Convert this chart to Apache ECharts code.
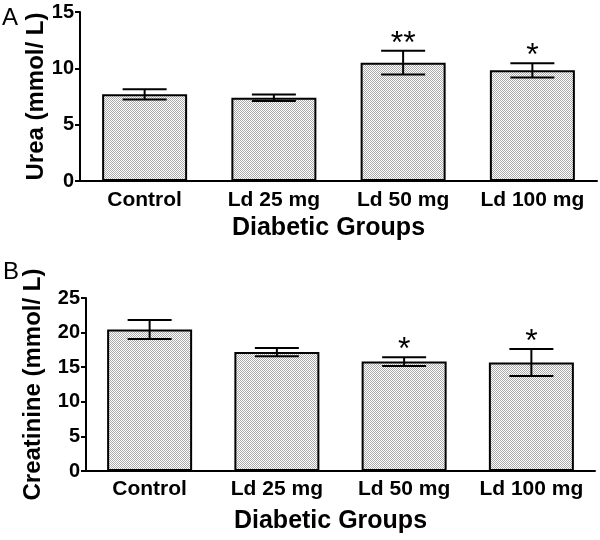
<!DOCTYPE html>
<html>
<head>
<meta charset="utf-8">
<script src="https://cdn.jsdelivr.net/npm/echarts@6/dist/echarts.min.js"></script>
<style>html,body{margin:0;padding:0;background:#fff}#c{width:600px;height:540px}</style>
</head>
<body>
<div id="c"></div>
<script>
var categories = ['Control', 'Ld 25 mg', 'Ld 50 mg', 'Ld 100 mg'];
var ureaMean = [7.69, 7.39, 10.5, 9.82];
var ureaSem = [0.45, 0.28, 1.05, 0.63];
var ureaSig = ['', '', '**', '*'];
var creatMean = [20.45, 17.18, 15.82, 15.67];
var creatSem = [1.37, 0.58, 0.63, 1.95];
var creatSig = ['', '', '*', '*'];
var ureaTicks = [0, 5, 10, 15];
var creatTicks = [0, 5, 10, 15, 20, 25];

var FONT = 'Arial, "Liberation Sans", sans-serif';

var pc = document.createElement('canvas');
pc.width = 2; pc.height = 2;
var pctx = pc.getContext('2d');
pctx.fillStyle = '#ffffff'; pctx.fillRect(0, 0, 2, 2);
pctx.fillStyle = '#aaaaaa'; pctx.fillRect(0, 0, 1, 1); pctx.fillRect(1, 1, 1, 1);

function errSeries(idx, means, sems, sigs) {
  var data = means.map(function (m, i) { return [i, m, sems[i], sigs[i]]; });
  return {
    type: 'custom', xAxisIndex: idx, yAxisIndex: idx, z: 5,
    data: data,
    renderItem: function (params, api) {
      var x = api.value(0), m = api.value(1), s = api.value(2);
      var sig = data[params.dataIndex][3];
      var top = api.coord([x, m + s]);
      var bot = api.coord([x, m - s]);
      var half = 22;
      var st = { stroke: '#000', lineWidth: 2 };
      var children = [
        { type: 'line', shape: { x1: top[0], y1: top[1], x2: bot[0], y2: bot[1] }, style: st },
        { type: 'line', shape: { x1: top[0] - half, y1: top[1], x2: top[0] + half, y2: top[1] }, style: st },
        { type: 'line', shape: { x1: bot[0] - half, y1: bot[1], x2: bot[0] + half, y2: bot[1] }, style: st }
      ];
      if (sig) {
        children.push({ type: 'text', style: { text: sig, x: top[0], y: top[1] + 9, align: 'center', verticalAlign: 'bottom', font: '32px ' + FONT, fill: '#000' } });
      }
      return { type: 'group', children: children };
    }
  };
}

function xAx(idx, margin, gap) {
  return {
    type: 'category', gridIndex: idx, data: categories,
    name: 'Diabetic Groups', nameLocation: 'middle', nameGap: gap,
    nameTextStyle: { fontFamily: FONT, fontWeight: 'bold', fontSize: 25, color: '#000', padding: [0, 20, 0, 0] },
    axisLine: { lineStyle: { color: '#000', width: 2 } },
    axisTick: { alignWithLabel: true, length: 5, lineStyle: { color: '#000', width: 2 } },
    axisLabel: { interval: 0, margin: margin, fontFamily: FONT, fontWeight: 'bold', fontSize: 21, color: '#000' }
  };
}
function yAx(idx, name, max, gap) {
  return {
    type: 'value', gridIndex: idx, min: 0, max: max, interval: 5,
    name: name, nameLocation: 'middle', nameGap: gap, nameMoveOverlap: false,
    nameTextStyle: { fontFamily: FONT, fontWeight: 'bold', fontSize: 24, color: '#000' },
    axisLine: { show: true, lineStyle: { color: '#000', width: 2 } },
    axisTick: { show: true, length: 5, lineStyle: { color: '#000', width: 2 } },
    axisLabel: { margin: 6, fontFamily: FONT, fontWeight: 'bold', fontSize: 20, color: '#000' },
    splitLine: { show: false }
  };
}

var chart = echarts.init(document.getElementById('c'), null, { renderer: 'canvas' });
chart.setOption({
  animation: false,
  backgroundColor: '#fff',
  grid: [
    { left: 80, right: 3, top: 12, height: 169 },
    { left: 86, right: 5, top: 298, height: 173 }
  ],
  xAxis: [xAx(0, 9, 35), xAx(1, 8, 38)],
  yAxis: [yAx(0, 'Urea (mmol/ L)', ureaTicks[ureaTicks.length - 1], 32),
          yAx(1, 'Creatinine (mmol/ L)', creatTicks[creatTicks.length - 1], 41)],
  graphic: [
    { type: 'text', left: 2, top: 6, style: { text: 'A', font: '24px ' + FONT, fill: '#000' } },
    { type: 'text', left: 3, top: 260, style: { text: 'B', font: '24px ' + FONT, fill: '#000' } }
  ],
  series: [
    { type: 'bar', xAxisIndex: 0, yAxisIndex: 0, data: ureaMean, barWidth: 85,
      itemStyle: { color: { image: pc, repeat: 'repeat' }, borderColor: '#000', borderWidth: 2 } },
    errSeries(0, ureaMean, ureaSem, ureaSig),
    { type: 'bar', xAxisIndex: 1, yAxisIndex: 1, data: creatMean, barWidth: 85,
      itemStyle: { color: { image: pc, repeat: 'repeat' }, borderColor: '#000', borderWidth: 2 } },
    errSeries(1, creatMean, creatSem, creatSig)
  ]
});
</script>
</body>
</html>
